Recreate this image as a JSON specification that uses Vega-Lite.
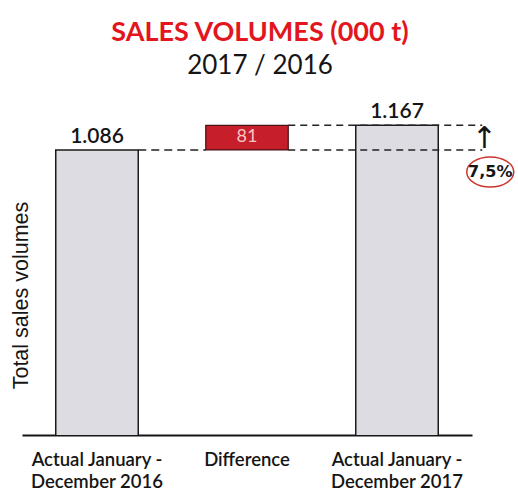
{
  "$schema": "https://vega.github.io/schema/vega-lite/v6.json",
  "autosize": {"type": "none"},
  "width": 450,
  "height": 335,
  "padding": {"left": 22, "top": 100, "right": 46, "bottom": 56},
  "background": "white",
  "config": {"view": {"stroke": null}, "font": "Lato"},
  "title": {
    "text": "SALES VOLUMES (000 t)",
    "subtitle": "2017 / 2016",
    "anchor": "middle",
    "frame": "group",
    "dx": 13,
    "offset": 20,
    "font": "Lato",
    "fontSize": 27,
    "fontWeight": "bold",
    "color": "#e2161c",
    "subtitleFont": "Lato",
    "subtitleFontSize": 26,
    "subtitleColor": "#151515",
    "subtitlePadding": 6
  },
  "datasets": {
    "bars": [
      {"cat": "Actual January -|December 2016", "kind": "actual", "value": 1086, "base": null, "label": "1.086"},
      {"cat": "Difference", "kind": "diff", "value": 1167, "base": 1086, "label": "81"},
      {"cat": "Actual January -|December 2017", "kind": "actual", "value": 1167, "base": null, "label": "1.167"}
    ],
    "links": [
      {"from": "Actual January -|December 2016", "to": "Difference", "level": 1086}
    ],
    "links2": [
      {"from": "Difference", "to": "Actual January -|December 2017", "level": 1167},
      {"from": "Difference", "to": "Actual January -|December 2017", "level": 1086}
    ],
    "notes": [
      {"cat": "Actual January -|December 2017", "level": 1167, "arrow": "↑", "level2": 1086, "pct": "7,5%"}
    ]
  },
  "encoding": {
    "x": {
      "field": "cat",
      "type": "nominal",
      "sort": null,
      "scale": {"domain": ["Actual January -|December 2016", "Difference", "Actual January -|December 2017"], "paddingInner": 0.45, "paddingOuter": 0.225},
      "axis": {
        "title": null,
        "labelAngle": 0,
        "labelExpr": "split(datum.value, '|')",
        "labelFont": "Lato",
        "labelFontSize": 18.5,
        "labelFontWeight": 600,
        "labelColor": "#151515",
        "labelLineHeight": 22,
        "labelPadding": 15,
        "ticks": false,
        "domainColor": "#151515",
        "domainWidth": 2
      }
    }
  },
  "layer": [
    {
      "data": {"name": "bars"},
      "transform": [{"filter": "datum.kind == 'actual'"}],
      "mark": {"type": "bar", "clip": true, "fill": "#dddce2", "stroke": "#1a1a1a", "strokeWidth": 1.5},
      "encoding": {
        "y": {
          "field": "value",
          "type": "quantitative",
          "scale": {"domain": [150, 1250], "zero": false, "nice": false},
          "axis": {
            "title": "Total sales volumes",
            "titleFont": "Liberation Sans",
            "titleFontSize": 21.5,
            "titleFontWeight": "normal",
            "titleColor": "#151515",
            "titlePadding": -10,
            "titleY": 195,
            "labels": false,
            "ticks": false,
            "domain": false,
            "grid": false
          }
        }
      }
    },
    {
      "data": {"name": "links"},
      "mark": {"type": "rule", "stroke": "#222", "strokeWidth": 1.5, "strokeDash": [8, 5]},
      "encoding": {
        "x": {"field": "from", "type": "nominal", "bandPosition": 1},
        "x2": {"field": "to", "bandPosition": 0},
        "y": {"field": "level", "type": "quantitative"}
      }
    },
    {
      "data": {"name": "links2"},
      "mark": {"type": "rule", "stroke": "#222", "strokeWidth": 1.5, "strokeDash": [7, 5], "x2Offset": 44},
      "encoding": {
        "x": {"field": "from", "type": "nominal", "bandPosition": 1},
        "x2": {"field": "to", "bandPosition": 1},
        "y": {"field": "level", "type": "quantitative"}
      }
    },
    {
      "data": {"name": "bars"},
      "transform": [{"filter": "datum.kind == 'diff'"}],
      "mark": {"type": "bar", "fill": "#c61e2b", "stroke": "#4a1014", "strokeWidth": 1.2},
      "encoding": {
        "y": {"field": "value", "type": "quantitative"},
        "y2": {"field": "base"}
      }
    },
    {
      "data": {"name": "bars"},
      "transform": [{"filter": "datum.kind == 'actual'"}],
      "mark": {"type": "text", "baseline": "alphabetic", "dy": -7, "font": "Lato", "fontSize": 21, "fontWeight": 600, "color": "#151515"},
      "encoding": {
        "y": {"field": "value", "type": "quantitative"},
        "text": {"field": "label"}
      }
    },
    {
      "data": {"name": "bars"},
      "transform": [{"filter": "datum.kind == 'diff'"}],
      "mark": {"type": "text", "baseline": "middle", "dy": 12, "font": "Lato", "fontSize": 18, "color": "#f7c4c4"},
      "encoding": {
        "y": {"field": "value", "type": "quantitative"},
        "text": {"field": "label"}
      }
    },
    {
      "data": {"name": "notes"},
      "mark": {"type": "text", "baseline": "middle", "dx": 46, "dy": -11, "font": "DejaVu Sans", "fontSize": 30, "fontWeight": "normal", "color": "#151515"},
      "encoding": {
        "x": {"field": "cat", "type": "nominal", "bandPosition": 1},
        "y": {"field": "level2", "type": "quantitative"},
        "text": {"field": "arrow"}
      }
    },
    {
      "data": {"name": "notes"},
      "mark": {"type": "point", "shape": "M-1,0A1,0.64,0,1,1,1,0A1,0.64,0,1,1,-1,0Z", "size": 2209, "filled": false, "stroke": "#c8372d", "strokeWidth": 1.5, "opacity": 1, "xOffset": 52, "yOffset": 22},
      "encoding": {
        "x": {"field": "cat", "type": "nominal", "bandPosition": 1},
        "y": {"field": "level2", "type": "quantitative"}
      }
    },
    {
      "data": {"name": "notes"},
      "mark": {"type": "text", "baseline": "middle", "dx": 52, "dy": 22, "font": "DejaVu Sans", "fontSize": 16, "fontWeight": "bold", "color": "#151515"},
      "encoding": {
        "x": {"field": "cat", "type": "nominal", "bandPosition": 1},
        "y": {"field": "level2", "type": "quantitative"},
        "text": {"field": "pct"}
      }
    }
  ]
}
